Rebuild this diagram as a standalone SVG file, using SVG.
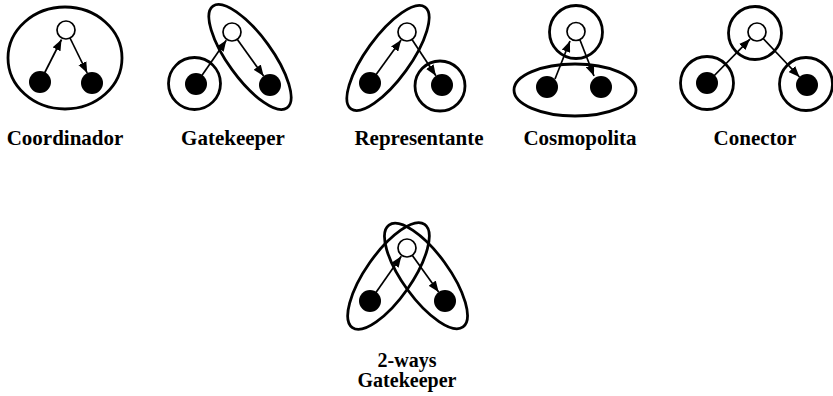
<svg xmlns="http://www.w3.org/2000/svg" width="833" height="396" viewBox="0 0 833 396">
<defs>
<style>
.enc{fill:none;stroke:#000;stroke-width:2.8}
.wn{fill:#fff;stroke:#000;stroke-width:1.7}
.bn{fill:#000}
.ln{stroke:#000;stroke-width:1.7;fill:none;marker-end:url(#ah)}
.lbl{font-family:"Liberation Serif","Times New Roman",serif;font-weight:bold;font-size:21px;text-anchor:middle;fill:#000}
.lbl2{font-family:"Liberation Serif","Times New Roman",serif;font-weight:bold;font-size:20px;text-anchor:middle;fill:#000}
</style>
<marker id="ah" viewBox="0 0 10 8" refX="10" refY="4" markerWidth="11" markerHeight="9" orient="auto" markerUnits="userSpaceOnUse">
<path d="M0,0 L10,4 L0,8 z" fill="#000"/>
</marker>
</defs>
<rect width="833" height="396" fill="#fff"/>

<g id="connectors">
<line class="ln" x1="40" y1="82" x2="61.5" y2="39.5"/>
<line class="ln" x1="70" y1="38" x2="87.2" y2="73"/>
<line class="ln" x1="196" y1="84" x2="226.3" y2="40.2"/>
<line class="ln" x1="237.2" y1="39.3" x2="263.6" y2="76.1"/>
<line class="ln" x1="370" y1="83" x2="401.1" y2="40.1"/>
<line class="ln" x1="412" y1="39.5" x2="435.9" y2="75.8"/>
<line class="ln" x1="555" y1="79" x2="570" y2="41"/>
<line class="ln" x1="580" y1="40" x2="594" y2="76"/>
<line class="ln" x1="707" y1="83" x2="750" y2="39.1"/>
<line class="ln" x1="762.5" y1="37.8" x2="799.5" y2="77"/>
<line class="ln" x1="370" y1="301" x2="401.3" y2="256.2"/>
<line class="ln" x1="412.2" y1="255.3" x2="438.6" y2="292.1"/>
</g>

<g id="coordinador">
<ellipse class="enc" cx="65" cy="58" rx="57" ry="51"/>
<circle class="wn" cx="66" cy="30" r="9"/>
<circle class="bn" cx="40" cy="82" r="11"/>
<circle class="bn" cx="92" cy="83" r="11"/>
<text class="lbl" x="65" y="145">Coordinador</text>
</g>

<g id="gatekeeper">
<circle class="enc" cx="194.5" cy="83.5" r="26"/>
<ellipse class="enc" cx="250" cy="57" rx="63" ry="22" transform="rotate(54 250 57)"/>
<circle class="wn" cx="232" cy="32" r="9"/>
<circle class="bn" cx="196" cy="84" r="11"/>
<circle class="bn" cx="270" cy="85" r="11"/>
<text class="lbl" x="233" y="145">Gatekeeper</text>
</g>

<g id="representante">
<ellipse class="enc" cx="388" cy="58" rx="63" ry="22" transform="rotate(-54 388 58)"/>
<circle class="enc" cx="440" cy="86" r="25"/>
<circle class="wn" cx="407" cy="32" r="9"/>
<circle class="bn" cx="370" cy="83" r="11"/>
<circle class="bn" cx="442" cy="85" r="11"/>
<text class="lbl" x="419" y="145">Representante</text>
</g>

<g id="cosmopolita">
<circle class="enc" cx="576" cy="32" r="26.5"/>
<ellipse class="enc" cx="575" cy="90" rx="61" ry="26"/>
<circle class="wn" cx="576" cy="31.5" r="9"/>
<circle class="bn" cx="547" cy="87" r="11"/>
<circle class="bn" cx="601" cy="87" r="11"/>
<text class="lbl" x="580" y="145">Cosmopolita</text>
</g>

<g id="conector">
<circle class="enc" cx="755" cy="33" r="26.5"/>
<circle class="enc" cx="707" cy="83" r="26.5"/>
<circle class="enc" cx="806" cy="84" r="26.5"/>
<circle class="wn" cx="757" cy="32" r="9"/>
<circle class="bn" cx="707" cy="83" r="11"/>
<circle class="bn" cx="807" cy="85" r="11"/>
<text class="lbl" x="755" y="145">Conector</text>
</g>

<g id="two-ways-gatekeeper">
<ellipse class="enc" cx="388.5" cy="276" rx="63" ry="23" transform="rotate(-55 388.5 276)"/>
<ellipse class="enc" cx="426" cy="276" rx="63" ry="23" transform="rotate(54 426 276)"/>
<circle class="wn" cx="407" cy="248" r="9"/>
<circle class="bn" cx="370" cy="301" r="11"/>
<circle class="bn" cx="445" cy="301" r="11"/>
<text class="lbl2" x="407" y="367">2-ways</text>
<text class="lbl2" x="407" y="387">Gatekeeper</text>
</g>
</svg>
